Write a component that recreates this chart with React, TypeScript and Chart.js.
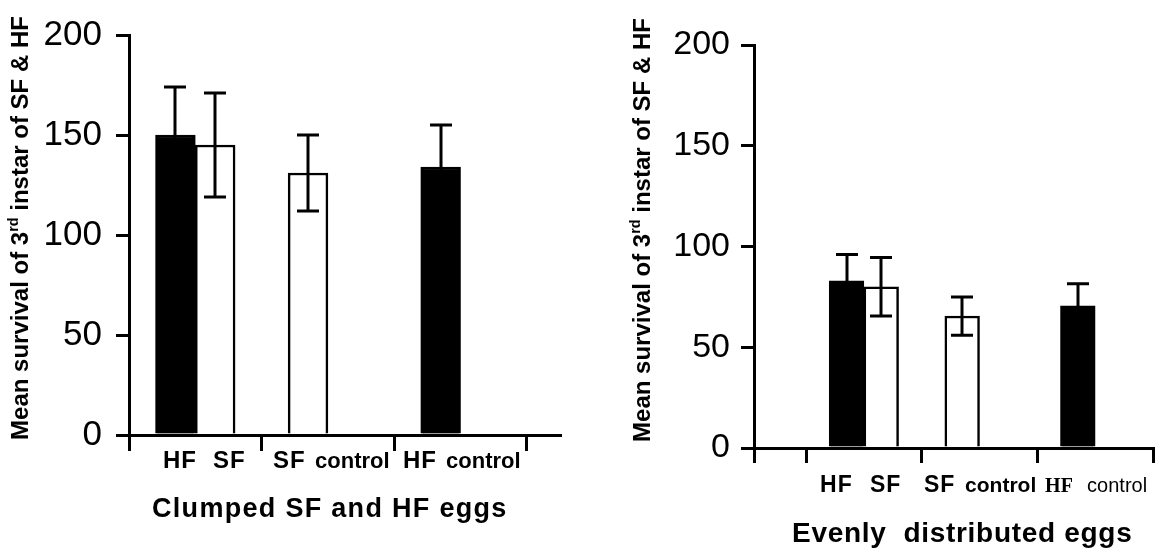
import React, { useEffect, useRef } from "react";
import { Chart, registerables } from "chart.js";

Chart.register(...registerables);

// ---- data ----
const categories = ["HF", "SF", "SF control", "HF control"];
const species = ["HF", "SF", "SF", "HF"];
const groupOf = [0, 0, 1, 2];
const slotOf = [0, 1, 0, 0];
const clumpedMeans = [150, 145, 131, 134];
const clumpedErrors = [24, 26, 19, 21];
const evenMeans = [83, 80, 65.5, 70.5];
const evenErrors = [13, 14.5, 9.5, 11];
const yTicks = [0, 50, 100, 150, 200];
const yTitleParts = ["Mean survival of 3", "rd", " instar of SF & HF"];
const clumpedTitle = "Clumped SF and HF eggs";
const evenTitle = "Evenly  distributed eggs";

const SANS = "'Liberation Sans', Arial, Helvetica, sans-serif";
const SERIF = "'Liberation Serif', 'Times New Roman', serif";

type Piece = { text: string; font: string; at: number; spacing?: number };

const leftSpec = {
  means: clumpedMeans,
  errors: clumpedErrors,
  xMin: 0,
  xMax: 3.25,
  xTicks: [0, 1, 2, 3],
  padTop: 30,
  padRight: 20,
  xAxisHeight: 119,
  yAxisWidth: 129,
  yFont: 35,
  yPad: 14,
  xTickLen: 16,
  labelBaseline: 468,
  pieces: [
    { text: "HF", font: `bold 24px ${SANS}`, at: 0.256, spacing: 1 },
    { text: "SF", font: `bold 24px ${SANS}`, at: 0.633, spacing: 1 },
    { text: "SF", font: `bold 24px ${SANS}`, at: 1.086, spacing: 1 },
    { text: "control", font: `bold 22px ${SANS}`, at: 1.403 },
    { text: "HF", font: `bold 24px ${SANS}`, at: 2.066, spacing: 1 },
    { text: "control", font: `bold 22px ${SANS}`, at: 2.391 },
  ] as Piece[],
  title: { text: clumpedTitle, x: 152, baseline: 517, size: 27, spacing: 1.3 },
  yTitle: { baselineX: 28, cy: 228, size: 24 },
};

const rightSpec = {
  means: evenMeans,
  errors: evenErrors,
  xMin: -0.45,
  xMax: 3,
  xTicks: [-0.45, 0, 1, 2, 3],
  padTop: 45,
  padRight: 7,
  xAxisHeight: 106,
  yAxisWidth: 174,
  yFont: 34,
  yPad: 11,
  xTickLen: 15,
  labelBaseline: 492,
  pieces: [
    { text: "HF", font: `bold 23px ${SANS}`, at: 0.121, spacing: 1 },
    { text: "SF", font: `bold 23px ${SANS}`, at: 0.553, spacing: 1 },
    { text: "SF", font: `bold 23px ${SANS}`, at: 1.02, spacing: 1 },
    { text: "control", font: `bold 21px ${SANS}`, at: 1.375 },
    { text: "HF", font: `bold 20px ${SERIF}`, at: 2.067 },
    { text: "control", font: `20px ${SANS}`, at: 2.43 },
  ] as Piece[],
  title: { text: evenTitle, x: 212, baseline: 542, size: 28, spacing: 0.7 },
  yTitle: { baselineX: 70, cy: 230, size: 24 },
};

const annotPlugin = {
  id: "annot",
  afterDatasetsDraw(chart: any, _args: any, opts: any) {
    const ctx = chart.ctx as CanvasRenderingContext2D;
    const y = chart.scales.y;
    const meta = chart.getDatasetMeta(0);
    ctx.save();
    ctx.strokeStyle = "#000";
    ctx.lineWidth = 3;
    ctx.lineCap = "butt";
    opts.means.forEach((m: number, i: number) => {
      const e = opts.errors[i];
      const px = Math.round(meta.data[i].x);
      const top = y.getPixelForValue(m + e);
      const bot = y.getPixelForValue(m - e);
      ctx.beginPath();
      ctx.moveTo(px, top);
      ctx.lineTo(px, bot);
      ctx.moveTo(px - 11, top);
      ctx.lineTo(px + 11, top);
      ctx.moveTo(px - 11, bot);
      ctx.lineTo(px + 11, bot);
      ctx.stroke();
    });
    ctx.restore();
  },
  afterDraw(chart: any, _args: any, opts: any) {
    const ctx = chart.ctx as CanvasRenderingContext2D;
    const xs = chart.scales.x;
    ctx.save();
    ctx.fillStyle = "#000";
    ctx.textBaseline = "alphabetic";
    ctx.textAlign = "left";
    // category labels
    (opts.pieces as Piece[]).forEach((p) => {
      ctx.font = p.font;
      (ctx as any).letterSpacing = `${p.spacing || 0}px`;
      ctx.fillText(p.text, xs.getPixelForValue(p.at), opts.labelBaseline);
    });
    // axis title
    const t = opts.title;
    ctx.font = `bold ${t.size}px ${SANS}`;
    (ctx as any).letterSpacing = `${t.spacing}px`;
    ctx.fillText(t.text, t.x, t.baseline);
    (ctx as any).letterSpacing = "0px";
    // rotated y title with superscript
    const yt = opts.yTitle;
    const supSize = yt.size * 0.6;
    const fonts = [`bold ${yt.size}px ${SANS}`, `bold ${supSize}px ${SANS}`, `bold ${yt.size}px ${SANS}`];
    const widths = yTitleParts.map((s, i) => {
      ctx.font = fonts[i];
      return ctx.measureText(s).width;
    });
    const total = widths.reduce((a, b) => a + b, 0);
    ctx.translate(yt.baselineX, yt.cy);
    ctx.rotate(-Math.PI / 2);
    let cx = -total / 2;
    yTitleParts.forEach((s, i) => {
      ctx.font = fonts[i];
      ctx.fillText(s, cx, i === 1 ? -yt.size * 0.4 : 0);
      cx += widths[i];
    });
    ctx.restore();
  },
};

function buildConfig(spec: any): any {
  return {
    type: "bar",
    data: {
      datasets: [
        {
          label: "survival",
          data: spec.means.map((m: number, i: number) => ({
            x: groupOf[i] + 0.35 + 0.3 * slotOf[i],
            y: m,
          })),
          backgroundColor: species.map((s) => (s === "HF" ? "#000" : "#fff")),
          borderColor: "#000",
          borderWidth: 2.5,
          borderSkipped: "start",
          barPercentage: 1,
          categoryPercentage: 1,
        },
      ],
    },
    options: {
      responsive: false,
      animation: false,
      devicePixelRatio: 1,
      layout: { padding: { left: 0, top: spec.padTop, right: spec.padRight, bottom: 0 } },
      plugins: {
        legend: { display: false },
        tooltip: { enabled: false },
        annot: {
          means: spec.means,
          errors: spec.errors,
          pieces: spec.pieces,
          labelBaseline: spec.labelBaseline,
          title: spec.title,
          yTitle: spec.yTitle,
        },
      },
      scales: {
        x: {
          type: "linear",
          offset: false,
          min: spec.xMin,
          max: spec.xMax,
          afterBuildTicks: (s: any) => {
            s.ticks = spec.xTicks.map((v: number) => ({ value: v }));
          },
          afterFit: (s: any) => {
            s.height = spec.xAxisHeight;
          },
          ticks: { display: false },
          grid: {
            display: true,
            offset: false,
            drawOnChartArea: false,
            drawTicks: true,
            tickLength: spec.xTickLen,
            lineWidth: 3,
            color: "#000",
          },
          border: { display: true, width: 3, color: "#000" },
        },
        y: {
          type: "linear",
          min: 0,
          max: 200,
          afterBuildTicks: (s: any) => {
            s.ticks = yTicks.map((v) => ({ value: v }));
          },
          afterFit: (s: any) => {
            s.width = spec.yAxisWidth;
          },
          ticks: {
            color: "#000",
            padding: spec.yPad,
            font: { family: SANS, size: spec.yFont },
          },
          grid: {
            display: true,
            drawOnChartArea: false,
            drawTicks: true,
            tickLength: 13,
            lineWidth: 3,
            color: "#000",
          },
          border: { display: true, width: 3, color: "#000" },
        },
      },
    },
    plugins: [annotPlugin],
  };
}

export default function App() {
  const leftRef = useRef<HTMLCanvasElement>(null);
  const rightRef = useRef<HTMLCanvasElement>(null);
  useEffect(() => {
    const a = new Chart(leftRef.current as HTMLCanvasElement, buildConfig(leftSpec));
    const b = new Chart(rightRef.current as HTMLCanvasElement, buildConfig(rightSpec));
    return () => {
      a.destroy();
      b.destroy();
    };
  }, []);
  return (
    <div
      style={{ position: "absolute", left: 0, top: 0, width: 1160, height: 554, background: "#fff" }}
      aria-label={categories.join(", ")}
    >
      <canvas ref={leftRef} width={580} height={554} style={{ position: "absolute", left: 0, top: 0 }} />
      <canvas ref={rightRef} width={580} height={554} style={{ position: "absolute", left: 580, top: 0 }} />
    </div>
  );
}
